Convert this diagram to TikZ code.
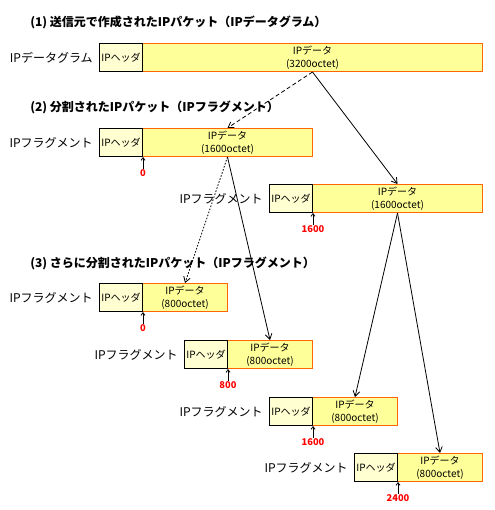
\documentclass[tikz,border=0pt]{standalone}
\usepackage{fontspec}
\setmainfont{Noto Sans CJK JP}
\usetikzlibrary{arrows.meta}
\definecolor{hdrfill}{HTML}{FFFFD2}
\definecolor{datfill}{HTML}{FFFF99}
\definecolor{datedge}{HTML}{FF6600}
\definecolor{offred}{HTML}{FF0000}
\begin{document}
\begin{tikzpicture}[x=0.75pt,y=-0.75pt,
 hdr/.style={draw=black, line width=0.75pt, fill=hdrfill, minimum width=32.25pt, minimum height=21pt, inner sep=0pt, anchor=north west, font=\fontsize{7.5}{9}\selectfont},
 dat/.style={draw=datedge, line width=0.75pt, fill=datfill, minimum height=21pt, inner sep=0pt, anchor=north west, align=center, font=\fontsize{7.5}{9.5}\selectfont},
 lbl/.style={anchor=east, inner sep=0pt, font=\fontsize{9}{10}\selectfont},
 ttl/.style={anchor=west, inner sep=0pt, font=\fontsize{9}{10}\selectfont\bfseries},
 off/.style={anchor=north, inner sep=0.5pt, text=offred, font=\fontsize{7}{8}\selectfont\bfseries},
 offarrow/.style={-{Straight Barb[length=2pt,width=3pt]}, line width=0.6pt},
 split/.style={-{Straight Barb[length=4pt,width=5pt]}, line width=0.6pt},
]
\fill[white] (0,0) rectangle (495,510);
\useasboundingbox (0,0) rectangle (495,510);

% titles
\node[ttl] (t1) at (30,22) {(1) 送信元で作成されたIPパケット（IPデータグラム）};
\node[ttl] (t2) at (30,107) {(2) 分割されたIPパケット（IPフラグメント）};
\node[ttl] (t3) at (30,263) {(3) さらに分割されたIPパケット（IPフラグメント）};

% datagram
\node[dat, minimum width=255pt] (d0) at (142,43) {IPデータ\\(3200octet)};
\node[hdr] (h0) at (99,43) {IPヘッダ};
\node[lbl] (l0) at ([xshift=-4.5pt]h0.west) {IPデータグラム};

% fragments level 2
\node[dat, minimum width=127.5pt] (d1) at (142,128) {IPデータ\\(1600octet)};
\node[hdr] (h1) at (99,128) {IPヘッダ};
\node[lbl] (l1) at ([xshift=-4.5pt]h1.west) {IPフラグメント};
\node[off] (o1) at ([yshift=-9pt]h1.south east) {0};
\draw[offarrow] (o1.north) -- (h1.south east);

\node[dat, minimum width=127.5pt] (d2) at (312,184) {IPデータ\\(1600octet)};
\node[hdr] (h2) at (269,184) {IPヘッダ};
\node[lbl] (l2) at ([xshift=-4.5pt]h2.west) {IPフラグメント};
\node[off] (o2) at ([yshift=-9pt]h2.south east) {1600};
\draw[offarrow] (o2.north) -- (h2.south east);

% fragments level 3
\node[dat, minimum width=63.75pt] (d3) at (142,283) {IPデータ\\(800octet)};
\node[hdr] (h3) at (99,283) {IPヘッダ};
\node[lbl] (l3) at ([xshift=-4.5pt]h3.west) {IPフラグメント};
\node[off] (o3) at ([yshift=-9pt]h3.south east) {0};
\draw[offarrow] (o3.north) -- (h3.south east);

\node[dat, minimum width=63.75pt] (d4) at (227,340) {IPデータ\\(800octet)};
\node[hdr] (h4) at (184,340) {IPヘッダ};
\node[lbl] (l4) at ([xshift=-4.5pt]h4.west) {IPフラグメント};
\node[off] (o4) at ([yshift=-9pt]h4.south east) {800};
\draw[offarrow] (o4.north) -- (h4.south east);

\node[dat, minimum width=63.75pt] (d5) at (312,397) {IPデータ\\(800octet)};
\node[hdr] (h5) at (269,397) {IPヘッダ};
\node[lbl] (l5) at ([xshift=-4.5pt]h5.west) {IPフラグメント};
\node[off] (o5) at ([yshift=-9pt]h5.south east) {1600};
\draw[offarrow] (o5.north) -- (h5.south east);

\node[dat, minimum width=63.75pt] (d6) at (397,453) {IPデータ\\(800octet)};
\node[hdr] (h6) at (354,453) {IPヘッダ};
\node[lbl] (l6) at ([xshift=-4.5pt]h6.west) {IPフラグメント};
\node[off] (o6) at ([yshift=-9pt]h6.south east) {2400};
\draw[offarrow] (o6.north) -- (h6.south east);

% split connectors
\draw[split, dash pattern=on 3pt off 2pt] (d0.south) -- (d1.north);
\draw[split] (d0.south) -- (d2.north);
\draw[split, dash pattern=on 1.2pt off 1.2pt] (d1.south) -- (d3.north);
\draw[split] (d1.south) -- (d4.north);
\draw[split] (d2.south) -- (d5.north);
\draw[split] (d2.south) -- (d6.north);
\end{tikzpicture}
\end{document}
